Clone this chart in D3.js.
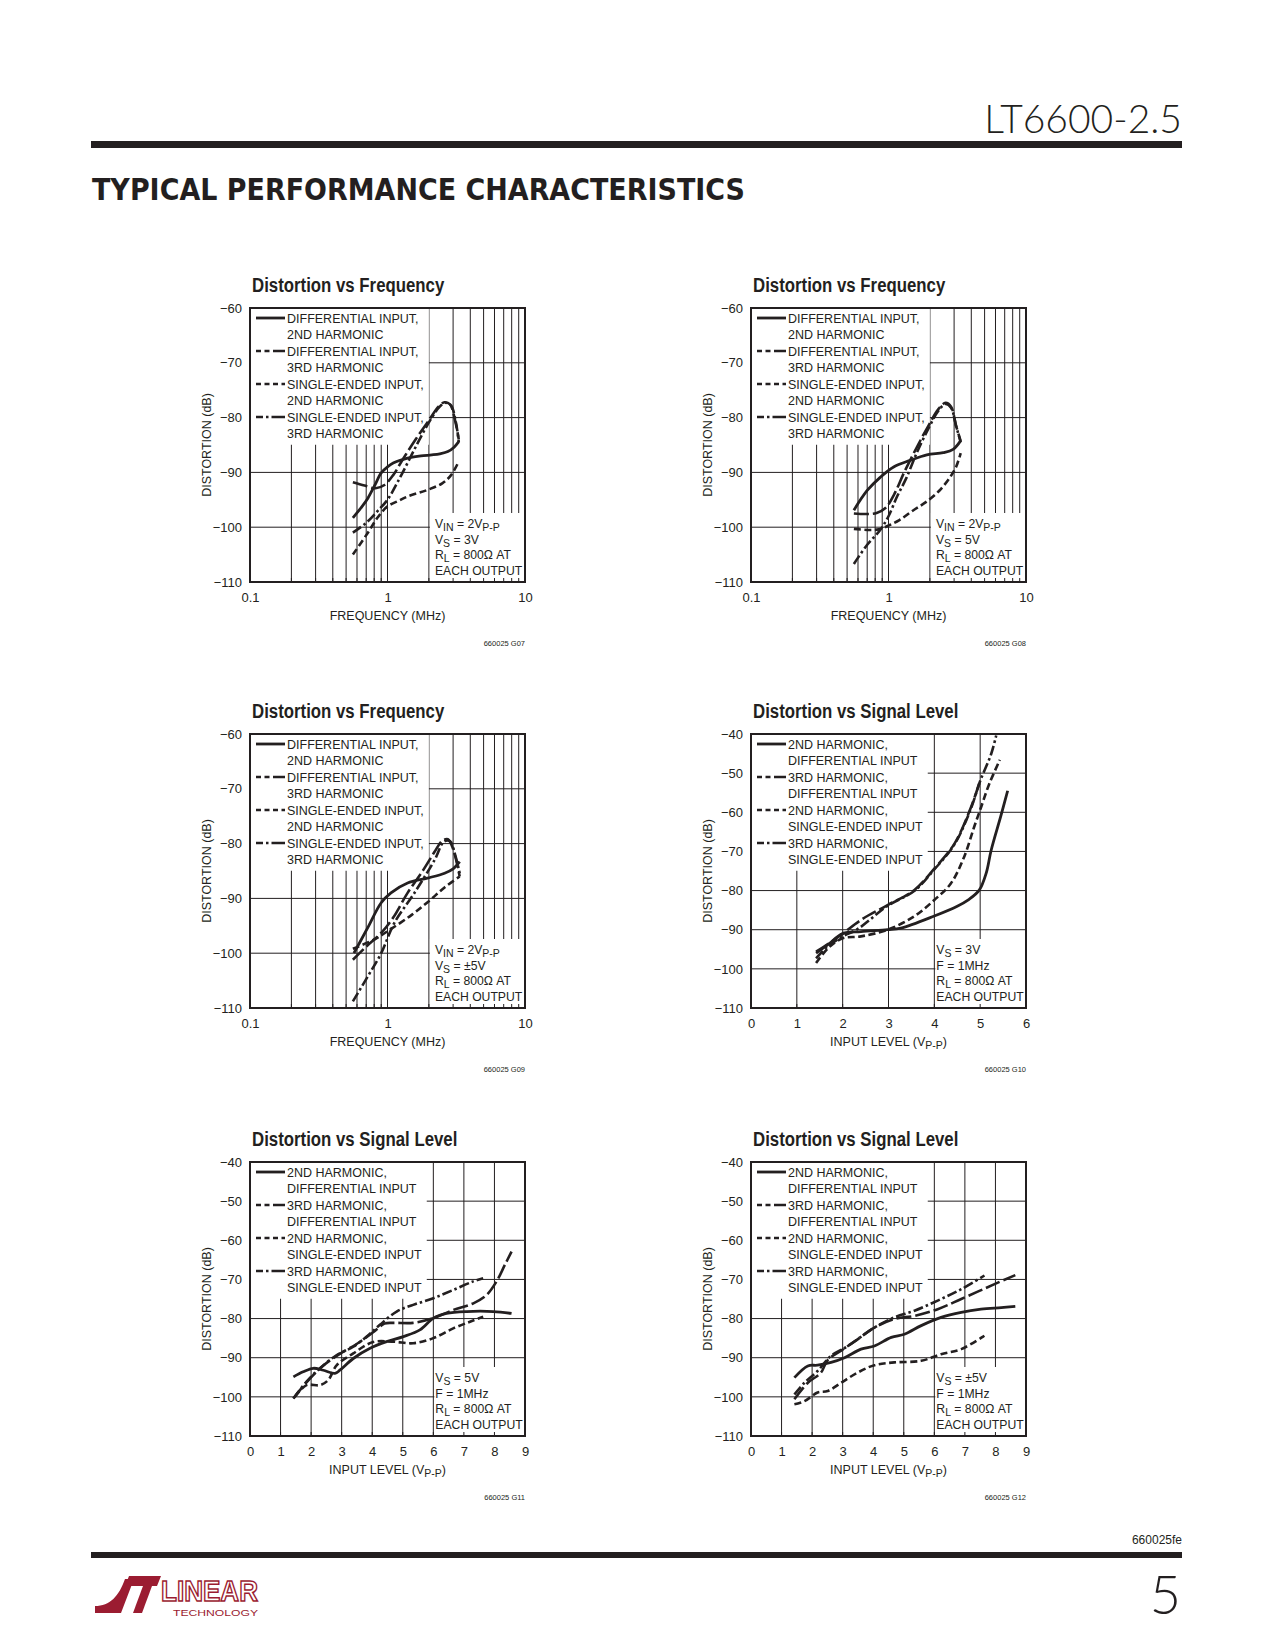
<!DOCTYPE html>
<html>
<head>
<meta charset="utf-8">
<script src="https://cdn.jsdelivr.net/npm/d3@7"></script>
<style>
  body { margin: 0; background: #fff; }
</style>
</head>
<body>
<script>
// ---- axis ticks / labels ----
var freqTicks = [0.1, 1, 10];
var freqTickLabels = ["0.1", "1", "10"];
var freqDbTicks = [-60, -70, -80, -90, -100, -110];
var levelDbTicks = [-40, -50, -60, -70, -80, -90, -100, -110];
var level6Ticks = [0, 1, 2, 3, 4, 5, 6];
var level9Ticks = [0, 1, 2, 3, 4, 5, 6, 7, 8, 9];

var freqLegend = ["DIFFERENTIAL INPUT,", "2ND HARMONIC", "DIFFERENTIAL INPUT,", "3RD HARMONIC",
  "SINGLE-ENDED INPUT,", "2ND HARMONIC", "SINGLE-ENDED INPUT,", "3RD HARMONIC"];
var levelLegend = ["2ND HARMONIC,", "DIFFERENTIAL INPUT", "3RD HARMONIC,", "DIFFERENTIAL INPUT",
  "2ND HARMONIC,", "SINGLE-ENDED INPUT", "3RD HARMONIC,", "SINGLE-ENDED INPUT"];

var g07Notes = ["V_{IN} = 2V_{P-P}", "V_{S} = 3V", "R_{L} = 800Ω AT", "EACH OUTPUT"];
var g08Notes = ["V_{IN} = 2V_{P-P}", "V_{S} = 5V", "R_{L} = 800Ω AT", "EACH OUTPUT"];
var g09Notes = ["V_{IN} = 2V_{P-P}", "V_{S} = ±5V", "R_{L} = 800Ω AT", "EACH OUTPUT"];
var g10Notes = ["V_{S} = 3V", "F = 1MHz", "R_{L} = 800Ω AT", "EACH OUTPUT"];
var g11Notes = ["V_{S} = 5V", "F = 1MHz", "R_{L} = 800Ω AT", "EACH OUTPUT"];
var g12Notes = ["V_{S} = ±5V", "F = 1MHz", "R_{L} = 800Ω AT", "EACH OUTPUT"];

// ---- G07: distortion vs frequency, VS = 3V  [MHz, dB] ----
var g07DiffH2 = [[0.56,-98.3],[0.64,-96.5],[0.72,-94.7],[0.81,-92.3],[0.9,-90.1],[1.0,-89.0],[1.1,-88.3],[1.4,-87.4],[1.75,-87.0],[2.1,-86.8],[2.4,-86.6],[2.75,-86.2],[3.05,-85.4],[3.3,-84.4]];
var g07DiffH3 = [[0.56,-91.8],[0.68,-92.4],[0.82,-92.9],[0.95,-92.3],[1.1,-90.5],[1.3,-87.5],[1.6,-84.0],[2.0,-80.5],[2.35,-78.0],[2.6,-77.2],[2.85,-77.6],[3.1,-80.5],[3.3,-84.0]];
var g07SeH2 = [[0.56,-105.0],[0.72,-101.0],[0.85,-98.2],[1.0,-96.2],[1.2,-95.2],[1.4,-94.4],[1.95,-93.2],[2.5,-92.0],[2.9,-90.5],[3.3,-88.0]];
var g07SeH3 = [[0.56,-101.0],[0.7,-99.2],[0.85,-97.0],[1.0,-95.0],[1.2,-91.5],[1.45,-87.5],[1.75,-83.5],[2.1,-80.0],[2.4,-78.0],[2.65,-77.3],[2.9,-77.8],[3.15,-81.0],[3.3,-84.5]];

// ---- G08: distortion vs frequency, VS = 5V ----
var g08DiffH2 = [[0.56,-96.9],[0.7,-93.3],[0.87,-90.9],[1.09,-89.0],[1.44,-87.8],[1.9,-86.8],[2.5,-86.4],[2.95,-85.8],[3.35,-84.2]];
var g08DiffH3 = [[0.56,-97.5],[0.7,-97.6],[0.82,-97.4],[0.95,-96.5],[1.1,-94.0],[1.3,-90.0],[1.6,-85.5],[1.95,-81.5],[2.3,-78.5],[2.6,-77.3],[2.85,-78.0],[3.1,-81.5],[3.35,-84.3]];
var g08SeH2 = [[0.56,-100.3],[0.7,-100.5],[0.85,-100.4],[1.0,-99.7],[1.2,-98.7],[1.5,-97.0],[1.9,-95.3],[2.35,-93.3],[2.8,-90.9],[3.1,-89.0],[3.35,-86.5]];
var g08SeH3 = [[0.56,-106.7],[0.7,-103.2],[0.87,-100.5],[1.0,-98.0],[1.15,-94.5],[1.35,-91.0],[1.6,-86.5],[1.95,-82.0],[2.3,-78.8],[2.6,-77.5],[2.85,-78.2],[3.1,-81.5],[3.35,-84.5]];

// ---- G09: distortion vs frequency, VS = ±5V ----
var g09DiffH2 = [[0.57,-100.0],[0.72,-95.3],[0.9,-90.8],[1.06,-89.0],[1.4,-87.2],[1.95,-86.3],[2.6,-85.4],[3.0,-84.6],[3.35,-83.3]];
var g09DiffH3 = [[0.56,-101.2],[0.7,-98.8],[0.9,-96.3],[1.1,-93.5],[1.4,-89.0],[1.8,-85.0],[2.2,-81.5],[2.5,-79.5],[2.75,-79.2],[3.0,-81.0],[3.35,-86.0]];
var g09SeH2 = [[0.56,-99.2],[0.8,-97.5],[1.0,-96.0],[1.5,-93.0],[2.0,-90.5],[2.6,-88.0],[3.35,-86.0]];
var g09SeH3 = [[0.56,-108.8],[0.72,-104.2],[0.9,-100.0],[1.12,-94.5],[1.57,-89.0],[2.2,-83.0],[2.58,-79.6],[2.86,-79.6],[3.1,-82.0],[3.35,-85.4]];

// ---- G10: distortion vs signal level, VS = 3V  [VP-P, dB] ----
var g10DiffH2 = [[1.42,-96.0],[1.67,-93.9],[2.0,-91.0],[2.4,-90.5],[2.98,-90.0],[3.27,-89.6],[4.0,-86.5],[4.5,-84.0],[4.75,-82.3],[4.98,-79.9],[5.13,-75.6],[5.24,-69.7],[5.45,-61.0],[5.6,-54.5]];
var g10DiffH3 = [[1.42,-95.6],[1.7,-93.5],[2.0,-91.0],[2.4,-87.5],[2.98,-83.7],[3.56,-79.9],[4.0,-74.4],[4.44,-68.0],[4.8,-58.7],[5.0,-51.9]];
var g10SeH2 = [[1.42,-98.5],[1.7,-94.5],[2.0,-92.2],[2.4,-91.7],[2.98,-90.0],[3.56,-86.6],[4.0,-82.4],[4.36,-78.2],[4.65,-71.4],[4.87,-63.7],[5.02,-58.7],[5.2,-52.7],[5.43,-46.6]];
var g10SeH3 = [[1.42,-97.3],[1.67,-94.3],[2.0,-91.7],[2.33,-89.8],[2.98,-83.9],[3.56,-80.1],[4.0,-74.6],[4.44,-68.2],[4.8,-59.0],[5.0,-52.0],[5.24,-45.1],[5.35,-40.4]];

// ---- G11: distortion vs signal level, VS = 5V ----
var g11DiffH2 = [[1.42,-94.9],[1.74,-93.6],[2.07,-92.7],[2.4,-93.2],[2.78,-94.0],[2.94,-93.2],[3.38,-90.2],[3.93,-87.6],[4.47,-85.9],[5.02,-84.6],[5.56,-82.9],[6.0,-79.9],[6.43,-78.7],[7.09,-78.2],[7.96,-78.2],[8.56,-78.7]];
var g11DiffH3 = [[1.42,-100.4],[1.85,-96.3],[2.4,-92.0],[2.94,-89.0],[3.49,-86.5],[4.03,-83.5],[4.4,-81.3],[4.69,-81.1],[5.34,-81.1],[6.0,-79.9],[6.65,-77.8],[7.31,-76.1],[7.74,-74.0],[8.07,-70.5],[8.34,-66.3],[8.56,-62.9]];
var g11SeH2 = [[1.47,-100.0],[1.85,-97.0],[2.29,-97.0],[2.56,-95.7],[2.84,-91.9],[3.38,-88.9],[4.03,-86.0],[4.69,-85.9],[5.34,-86.3],[6.0,-85.0],[6.65,-82.5],[7.2,-80.8],[7.63,-79.5]];
var g11SeH3 = [[1.42,-100.4],[1.85,-96.1],[2.29,-92.7],[2.84,-89.3],[3.38,-87.2],[3.82,-84.6],[4.25,-81.6],[4.8,-78.2],[5.34,-76.5],[6.0,-74.8],[6.65,-72.7],[7.31,-70.5],[7.63,-69.7]];

// ---- G12: distortion vs signal level, VS = ±5V ----
var g12DiffH2 = [[1.42,-95.1],[1.86,-92.1],[2.18,-91.9],[2.62,-91.2],[3.06,-90.0],[3.6,-87.8],[4.04,-87.0],[4.59,-84.8],[5.02,-84.0],[5.57,-81.8],[6.22,-79.7],[6.88,-78.4],[7.53,-77.6],[8.19,-77.2],[8.65,-76.9]];
var g12DiffH3 = [[1.42,-100.6],[1.86,-96.4],[2.29,-93.8],[2.51,-90.6],[2.95,-88.2],[3.49,-85.3],[4.04,-82.3],[4.69,-80.1],[5.35,-79.3],[6.11,-77.6],[6.88,-75.0],[7.97,-71.2],[8.65,-68.9]];
var g12SeH2 = [[1.42,-101.9],[1.75,-101.1],[2.18,-98.9],[2.51,-98.5],[2.95,-96.4],[3.49,-93.8],[4.04,-91.9],[4.69,-91.2],[5.57,-90.8],[6.22,-89.1],[6.88,-87.8],[7.64,-84.4]];
var g12SeH3 = [[1.42,-99.4],[1.75,-96.4],[2.18,-93.4],[2.62,-89.5],[3.17,-87.0],[4.04,-82.3],[4.69,-79.7],[5.35,-78.0],[6.11,-75.4],[6.88,-72.5],[7.64,-69.0]];

// ---- page layout ----
var svgWidth = 1275, svgHeight = 1650;
var W = 275, H = 274;
var colX = [250, 751];
var rowY = [308, 734, 1162];
var ink = "#231f20";
var maroon = "#9b1c31";
var baseFont = "'Liberation Sans', Arial, Helvetica, sans-serif";

// line styles: diff 2nd, diff 3rd, single-ended 2nd, single-ended 3rd
var styles = [
  { dash: null, width: 2.8, sample: null },
  { dash: "15,4", width: 2.6, sample: "5,3.5,5,3.5,40" },
  { dash: "7,3.5", width: 2.6, sample: "5,3.5" },
  { dash: "10,3,2.5,3", width: 2.6, sample: "7,3,2.5,3,40" }
];

var charts = [
  { id: "660025 G07", col: 0, row: 0, title: "Distortion vs Frequency", log: true,
    xTicks: freqTicks, xLabels: freqTickLabels, yTicks: freqDbTicks, legend: freqLegend,
    notes: g07Notes, noteX: 2, xTitle: "FREQUENCY (MHz)",
    series: [g07DiffH2, g07DiffH3, g07SeH2, g07SeH3] },
  { id: "660025 G08", col: 1, row: 0, title: "Distortion vs Frequency", log: true,
    xTicks: freqTicks, xLabels: freqTickLabels, yTicks: freqDbTicks, legend: freqLegend,
    notes: g08Notes, noteX: 2, xTitle: "FREQUENCY (MHz)",
    series: [g08DiffH2, g08DiffH3, g08SeH2, g08SeH3] },
  { id: "660025 G09", col: 0, row: 1, title: "Distortion vs Frequency", log: true,
    xTicks: freqTicks, xLabels: freqTickLabels, yTicks: freqDbTicks, legend: freqLegend,
    notes: g09Notes, noteX: 2, xTitle: "FREQUENCY (MHz)",
    series: [g09DiffH2, g09DiffH3, g09SeH2, g09SeH3] },
  { id: "660025 G10", col: 1, row: 1, title: "Distortion vs Signal Level", log: false,
    xTicks: level6Ticks, yTicks: levelDbTicks, legend: levelLegend,
    notes: g10Notes, noteX: 4, xTitle: "INPUT LEVEL (V_{P-P})",
    series: [g10DiffH2, g10DiffH3, g10SeH2, g10SeH3] },
  { id: "660025 G11", col: 0, row: 2, title: "Distortion vs Signal Level", log: false,
    xTicks: level9Ticks, yTicks: levelDbTicks, legend: levelLegend,
    notes: g11Notes, noteX: 6, xTitle: "INPUT LEVEL (V_{P-P})",
    series: [g11DiffH2, g11DiffH3, g11SeH2, g11SeH3] },
  { id: "660025 G12", col: 1, row: 2, title: "Distortion vs Signal Level", log: false,
    xTicks: level9Ticks, yTicks: levelDbTicks, legend: levelLegend,
    notes: g12Notes, noteX: 6, xTitle: "INPUT LEVEL (V_{P-P})",
    series: [g12DiffH2, g12DiffH3, g12SeH2, g12SeH3] }
];

var svg = d3.select("body").append("svg")
  .attr("width", svgWidth)
  .attr("height", svgHeight)
  .style("font-family", baseFont);

svg.append("rect").attr("width", svgWidth).attr("height", svgHeight).attr("fill", "#fff");

// text with _{...} subscripts
function addRich(textSel, str, subSize) {
  var parts = str.split(/(_\{[^}]*\})/).filter(function(s) { return s.length; });
  var inSub = false;
  parts.forEach(function(p) {
    var isSub = p.indexOf("_{") === 0;
    var t = textSel.append("tspan").text(isSub ? p.slice(2, -1) : p);
    if (isSub) {
      t.attr("font-size", subSize).attr("dy", inSub ? 0 : 3);
      inSub = true;
    } else if (inSub) {
      t.attr("dy", -3);
      inSub = false;
    }
  });
}

// ---- page header ----
svg.append("text")
  .attr("x", 1182).attr("y", 133)
  .attr("text-anchor", "end")
  .attr("font-family", "Lato, 'Open Sans', sans-serif")
  .attr("font-weight", 300)
  .attr("font-size", 39)
  .attr("fill", ink)
  .text("LT6600-2.5");

svg.append("rect").attr("x", 91).attr("y", 141).attr("width", 1091).attr("height", 7).attr("fill", ink);

svg.append("text")
  .attr("x", 92).attr("y", 200)
  .attr("font-family", "'DejaVu Sans', sans-serif")
  .attr("font-weight", "bold")
  .attr("font-size", 30)
  .attr("textLength", 653)
  .attr("lengthAdjust", "spacingAndGlyphs")
  .attr("fill", ink)
  .text("TYPICAL PERFORMANCE CHARACTERISTICS");

// ---- charts ----
function drawChart(c) {
  var g = svg.append("g").attr("transform", `translate(${colX[c.col]}, ${rowY[c.row]})`);

  var x = c.log
    ? d3.scaleLog().domain([c.xTicks[0], c.xTicks[c.xTicks.length - 1]]).range([0, W])
    : d3.scaleLinear().domain([c.xTicks[0], c.xTicks[c.xTicks.length - 1]]).range([0, W]);
  var y = d3.scaleLinear()
    .domain([c.yTicks[c.yTicks.length - 1], c.yTicks[0]])
    .range([H, 0]);

  var xGrid = c.log
    ? x.ticks().filter(function(d) { return d > 0.1001 && d < 9.999; })
    : c.xTicks.slice(1, -1);
  var yGrid = c.yTicks.slice(1, -1);

  // grid
  var grid = g.append("g").attr("stroke", ink).attr("stroke-width", 1);
  grid.selectAll(".vgrid").data(xGrid).join("line").attr("class", "vgrid")
    .attr("x1", function(d) { return x(d); }).attr("x2", function(d) { return x(d); })
    .attr("y1", 0).attr("y2", H);
  grid.selectAll(".hgrid").data(yGrid).join("line").attr("class", "hgrid")
    .attr("x1", 0).attr("x2", W)
    .attr("y1", function(d) { return y(d); }).attr("y2", function(d) { return y(d); });

  var maskG = g.append("g").attr("fill", "#fff");
  var curveG = g.append("g").attr("fill", "none").attr("stroke", ink);
  var textG = g.append("g").attr("font-size", 12.5).attr("fill", ink);

  // legend, on one white knockout as wide as its longest row
  var rowH = 16.5, maxW = 0;
  c.legend.forEach(function(label, i) {
    var cy = 10 + i * rowH;
    var t = textG.append("text").attr("x", 37).attr("y", cy + 4.5).text(label);
    maxW = Math.max(maxW, t.node().getComputedTextLength());
    if (i % 2 === 0) {
      var st = styles[i / 2];
      curveG.append("line")
        .attr("x1", 6).attr("x2", 35).attr("y1", cy).attr("y2", cy)
        .attr("stroke-width", st.width)
        .attr("stroke-dasharray", st.sample);
    }
  });
  maskG.append("rect").attr("x", 1).attr("y", 1)
    .attr("width", 37 + maxW + 4)
    .attr("height", 10 + (c.legend.length - 1) * rowH + rowH / 2 + 2);

  // conditions box
  var nx = x(c.noteX);
  var pad = c.log ? 6 : 2;
  maskG.append("rect").attr("x", nx + 1).attr("y", H - 69).attr("width", W - nx - 1).attr("height", 68);
  c.notes.forEach(function(s, i) {
    var t = textG.append("text").attr("x", nx + pad).attr("y", H - 54 + i * 15.7)
      .attr("font-size", 12.2);
    addRich(t, s, 10.5);
  });

  // curves
  var line = d3.line()
    .x(function(d) { return x(d[0]); })
    .y(function(d) { return y(d[1]); })
    .curve(d3.curveCatmullRom.alpha(0.5));
  c.series.forEach(function(s, i) {
    curveG.append("path")
      .attr("d", line(s))
      .attr("stroke-width", styles[i].width)
      .attr("stroke-dasharray", styles[i].dash)
      .attr("stroke-linejoin", "round");
  });

  // small ticks along the bottom edge
  g.append("g").attr("stroke", ink).attr("stroke-width", 1)
    .selectAll("line").data(xGrid).join("line")
    .attr("x1", function(d) { return x(d); }).attr("x2", function(d) { return x(d); })
    .attr("y1", H - 4).attr("y2", H);

  // frame
  g.append("rect").attr("x", 0).attr("y", 0).attr("width", W).attr("height", H)
    .attr("fill", "none").attr("stroke", ink).attr("stroke-width", 2);

  // axes
  var yAxis = d3.axisLeft(y).tickValues(c.yTicks).tickSize(0).tickPadding(8);
  var ya = g.append("g").call(yAxis);
  ya.select(".domain").remove();
  ya.attr("font-size", 13).attr("font-family", null);
  ya.selectAll("text").attr("fill", ink);

  var xAxis = d3.axisBottom(x).tickValues(c.xTicks).tickSize(0).tickPadding(10.5);
  if (c.xLabels) xAxis.tickFormat(function(d, i) { return c.xLabels[i]; });
  else xAxis.tickFormat(d3.format("d"));
  var xa = g.append("g").attr("transform", `translate(0, ${H})`).call(xAxis);
  xa.select(".domain").remove();
  xa.attr("font-size", 13).attr("font-family", null);
  xa.selectAll("text").attr("fill", ink);

  // axis titles
  g.append("text")
    .attr("transform", `translate(-43, ${H / 2}) rotate(-90)`)
    .attr("text-anchor", "middle").attr("dy", "0.35em")
    .attr("font-size", 12.5).attr("fill", ink)
    .text("DISTORTION (dB)");

  var xt = g.append("text")
    .attr("x", W / 2).attr("y", H + 38)
    .attr("text-anchor", "middle")
    .attr("font-size", 12.5).attr("fill", ink);
  addRich(xt, c.xTitle, 10.5);

  // chart title (condensed bold)
  g.append("text")
    .attr("transform", "translate(2, -16) scale(0.82, 1)")
    .attr("font-size", 20.5).attr("font-weight", "bold").attr("fill", ink)
    .text(c.title);

  // figure id
  g.append("text")
    .attr("x", W).attr("y", H + 64)
    .attr("text-anchor", "end")
    .attr("font-size", 7.5).attr("fill", ink)
    .text(c.id);
}

charts.forEach(drawChart);

// ---- page footer ----
svg.append("text")
  .attr("x", 1182).attr("y", 1544)
  .attr("text-anchor", "end")
  .attr("font-size", 12).attr("fill", ink)
  .text("660025fe");

svg.append("rect").attr("x", 91).attr("y", 1552).attr("width", 1091).attr("height", 6).attr("fill", ink);

svg.append("text")
  .attr("x", 1181).attr("y", 1614)
  .attr("text-anchor", "end")
  .attr("font-family", "Lato, 'Open Sans', sans-serif")
  .attr("font-weight", 300)
  .attr("font-size", 54)
  .attr("fill", ink)
  .text("5");

// Linear Technology logo
var logo = svg.append("g").attr("fill", maroon);
logo.append("path").attr("d", "M95,1613 L121,1613 L134,1579 L125,1579 C119,1596 110,1606 95,1606 Z");
logo.append("path").attr("d", "M129,1576 L161,1576 L157,1586 L125,1586 Z");
logo.append("path").attr("d", "M143,1586 L152,1586 L142,1613 L133,1613 Z");
logo.append("text")
  .attr("x", 161).attr("y", 1601)
  .attr("font-size", 29).attr("font-weight", "bold")
  .attr("fill", "none").attr("stroke", maroon).attr("stroke-width", 1.5)
  .attr("textLength", 97).attr("lengthAdjust", "spacingAndGlyphs")
  .text("LINEAR");
logo.append("text")
  .attr("x", 173).attr("y", 1616)
  .attr("font-size", 9)
  .attr("textLength", 85).attr("lengthAdjust", "spacingAndGlyphs")
  .text("TECHNOLOGY");
</script>
</body>
</html>
